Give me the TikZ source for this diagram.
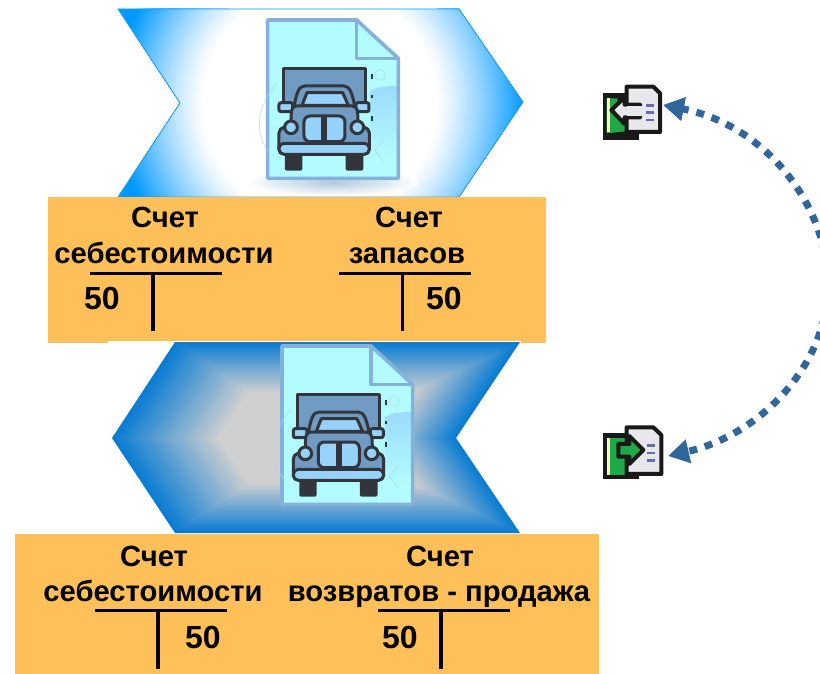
\documentclass[tikz,border=0pt]{standalone}
\usepackage{fontspec}
\setmainfont{Liberation Sans}
\usetikzlibrary{arrows.meta}
\definecolor{glowblue}{RGB}{0,153,255}
\definecolor{edgeblue}{RGB}{30,155,250}
\definecolor{deepblue}{RGB}{10,124,210}
\definecolor{plategray}{RGB}{208,208,208}
\definecolor{ledger}{RGB}{255,192,90}
\definecolor{docfill}{RGB}{178,252,255}
\definecolor{docline}{RGB}{132,178,218}
\definecolor{truckdark}{RGB}{50,54,60}
\definecolor{truckbody}{RGB}{112,156,196}
\definecolor{trucklight}{RGB}{150,210,250}
\definecolor{arcblue}{RGB}{48,102,155}
\definecolor{icongreen}{RGB}{30,170,70}
\definecolor{iconpage}{RGB}{232,232,236}
\definecolor{iconline}{RGB}{100,110,170}
\tikzset{
  heading/.style={anchor=base,font=\bfseries\fontsize{29.2}{29.2}\selectfont,inner sep=0pt,text=black},
  amount/.style={anchor=center,font=\bfseries\fontsize{32}{32}\selectfont,inner sep=0pt,text=black},
  rule/.style={line width=3.4pt,black},
  tk/.style={draw=truckdark,line width=3pt,line join=round},
  arcline/.style={arcblue,line width=7pt,dash pattern=on 8pt off 8pt,
    -{Triangle[length=21pt,width=23pt,color=arcblue]}},
  iconink/.style={draw=black!90,line width=4pt,line join=round}
}
\newcommand{\truckdoc}[2]{%
  \begin{scope}[shift={(#1,#2)},x=.33333pt,y=-.33333pt]
    \fill[docfill] (503,60) -- (770,60) -- (895,175) -- (895,535) -- (503,535) -- cycle;
    \shade[top color=trucklight!80!docfill,bottom color=docfill] (812,272) .. controls (840,258) and (870,258) .. (893,258) -- (893,470) -- (812,470) -- cycle;
    \draw[docline,line width=3.6pt,line join=round] (503,60) -- (770,60) -- (895,175) -- (895,535) -- (503,535) -- cycle;
    \draw[docline,line width=3.6pt,line join=round] (770,60) -- (770,175) -- (895,175);
    \draw[docline!60,line width=.5pt] (530,250) .. controls (470,320) and (460,400) .. (510,460);
    \draw[docline!60,line width=.5pt] (840,225) circle (16);
    \draw[docline!60,line width=.5pt] (850,420) -- (825,450) -- (850,485);
    \fill[truckdark] (812,222) rectangle (818,238);
    \fill[truckdark] (812,285) rectangle (818,293);
    \fill[truckdark] (812,348) rectangle (818,362);
    \fill[truckdark,rounded corners=2pt] (555,460) rectangle (607,512);
    \fill[truckdark,rounded corners=2pt] (737,460) rectangle (790,512);
    \draw[tk,fill=truckbody] (551,205) rectangle (796,335);
    \draw[tk,fill=truckbody] (582,320) .. controls (590,280) and (595,258) .. (615,258) -- (732,258) .. controls (750,258) and (756,280) .. (765,320) -- cycle;
    \draw[tk,fill=trucklight] (606,316) -- (621,278) -- (728,278) -- (745,316) -- cycle;
    \draw[tk,fill=trucklight,rounded corners=2pt] (537,308) rectangle (578,335);
    \draw[tk,fill=trucklight,rounded corners=2pt] (768,308) rectangle (807,335);
    \draw[tk,fill=truckbody,rounded corners=5pt] (575,318) -- (772,318) -- (775,378) -- (808,384) -- (808,462) -- (537,462) -- (537,384) -- (572,378) -- cycle;
    \draw[tk,fill=trucklight,rounded corners=6pt] (612,348) rectangle (735,425);
    \draw[tk] (669,348) -- (669,425);
    \draw[tk] (678,348) -- (678,425);
    \draw[tk,fill=trucklight] (573,382) circle (19);
    \draw[tk,fill=trucklight] (772,382) circle (19);
    \draw[tk,fill=trucklight,rounded corners=5pt] (537,430) rectangle (808,463);
  \end{scope}}
\begin{document}
\begin{tikzpicture}[x=1pt,y=-1pt]
\useasboundingbox (0,0) rectangle (820,674);
\fill[white] (0,0) rectangle (820,674);

% upper chevron
\begin{scope}
  \clip (118,9) -- (459,9) -- (523,102) -- (459,197) -- (118,197) -- (180,103) -- cycle;
  \fill[glowblue] (100,0) rectangle (540,210);
  \foreach \i in {0,...,44}{
    \pgfmathsetmacro{\rad}{205-\i*2}
    \pgfmathsetmacro{\mixp}{100*((\rad-117)/88)^1.25}
    \colorlet{stepcol}{glowblue!\mixp!white}
    \fill[stepcol] (320,103) circle (\rad pt);
  }
\end{scope}
\draw[edgeblue,line width=.8pt,line join=miter] (118,9) -- (459,9) -- (523,102) -- (459,197) -- (118,197) -- (180,103) -- cycle;
\shade[inner color=truckbody!55!white,outer color=white] (333,182) ellipse (86pt and 14pt);
\draw[docfill!60!docline,line width=.9pt] (229,8.5) -- (437,8.5);
\draw[docfill!60!docline,line width=.9pt] (229,197) -- (437,197);
\truckdoc{100}{0}

% ledger boxes
\fill[ledger] (48,197.5) rectangle (546,342.8);
\fill[white] (108,340.6) rectangle (521,343);
\fill[ledger] (15,534) rectangle (599,674);

% lower chevron
\foreach \i in {0,...,29}{
  \pgfmathsetmacro{\fac}{1-\i*0.0185}
  \pgfmathsetmacro{\mixp}{max(0,min(100,100*(\fac-0.48)/0.52))}
  \colorlet{stepcol}{deepblue!\mixp!plategray}
  \fill[stepcol,shift={(316,438)},scale=\fac] (-141,-96) -- (204,-96) -- (140,0) -- (204,95) -- (-141,95) -- (-204,0) -- cycle;
}
\truckdoc{114.3}{326}

% upper left ledger
\node[heading] (ha) at (165,228) {Счет};
\node[heading] (hb) at (164,263) {себестоимости};
\node[amount] (va) at (102,298) {50};
\coordinate (ra) at (90,273.3);
\coordinate (rb) at (221.7,273.3);
\coordinate (rc) at (153,273.3);
\coordinate (rd) at (153,331);
\draw[rule] (ra) -- (rb);
\draw[rule] (rc) -- (rd);

% upper right ledger
\node[heading] (hc) at (409,228) {Счет};
\node[heading] (hd) at (407,263) {запасов};
\node[amount] (vb) at (444,298) {50};
\coordinate (re) at (339,273.3);
\coordinate (rf) at (471,273.3);
\coordinate (rg) at (402.5,273.3);
\coordinate (rh) at (402.5,331);
\draw[rule] (re) -- (rf);
\draw[rule] (rg) -- (rh);

% lower left ledger
\node[heading] (he) at (154,566) {Счет};
\node[heading] (hf) at (153,601.7) {себестоимости};
\node[amount] (vc) at (203,637) {50};
\coordinate (ri) at (95,610.3);
\coordinate (rj) at (227,610.3);
\coordinate (rk) at (158,610.3);
\coordinate (rl) at (158,669.3);
\draw[rule] (ri) -- (rj);
\draw[rule] (rk) -- (rl);

% lower right ledger
\node[heading] (hg) at (440,566) {Счет};
\node[heading] (hh) at (439,601.7) {возвратов - продажа};
\node[amount] (vd) at (400,637) {50};
\coordinate (rm) at (378,610.3);
\coordinate (rn) at (510,610.3);
\coordinate (ro) at (441,610.3);
\coordinate (rp) at (441,669.3);
\draw[rule] (rm) -- (rn);
\draw[rule] (ro) -- (rp);

% icons
\begin{scope}[shift={(590,70)},x=.33333pt,y=-.33333pt]
  \fill[black!90] (38,70) rectangle (148,210);
  \fill[icongreen] (50,85) -- (80,85) -- (125,182) -- (50,190) -- cycle;
  \fill[yellow!25] (50,85) rectangle (60,185);
  \draw[iconink,fill=iconpage] (110,50) -- (190,50) -- (210,70) -- (210,186) -- (110,186) -- cycle;
  \draw[iconink,fill=iconpage] (64,120) -- (104,82) -- (104,104) -- (150,104) -- (150,142) -- (104,142) -- (104,162) -- cycle;
  \fill[iconpage] (112,108) rectangle (158,138);
  \fill[iconline] (168,102) rectangle (192,110);
  \fill[iconline] (168,124) rectangle (192,132);
  \fill[iconline] (168,146) rectangle (192,154);
\end{scope}
\begin{scope}[shift={(590,70)},x=.33333pt,y=-.33333pt]
  \fill[black!90] (38,1088) rectangle (148,1226);
  \fill[icongreen] (50,1103) rectangle (106,1214);
  \fill[yellow!25] (50,1103) rectangle (60,1214);
  \draw[iconink,fill=iconpage] (110,1072) -- (190,1072) -- (214,1095) -- (214,1212) -- (110,1212) -- cycle;
  \draw[iconink,fill=icongreen] (85,1122) -- (118,1122) -- (118,1098) -- (160,1140) -- (118,1182) -- (118,1160) -- (85,1160) -- cycle;
  \fill[iconline] (172,1122) rectangle (196,1130);
  \fill[iconline] (172,1145) rectangle (196,1153);
  \fill[iconline] (172,1168) rectangle (196,1176);
\end{scope}

% connector, running off the right edge of the picture
\coordinate (tipa) at (663,105);
\coordinate (tipb) at (668,456);
\coordinate (apex) at (828,285);
\begin{scope}
  \clip (0,0) rectangle (820,674);
  \draw[arcline] (apex) .. controls (828,205) and (765,125) .. (tipa);
  \draw[arcline] (apex) .. controls (828,365) and (760,435) .. (tipb);
\end{scope}
\end{tikzpicture}
\end{document}
